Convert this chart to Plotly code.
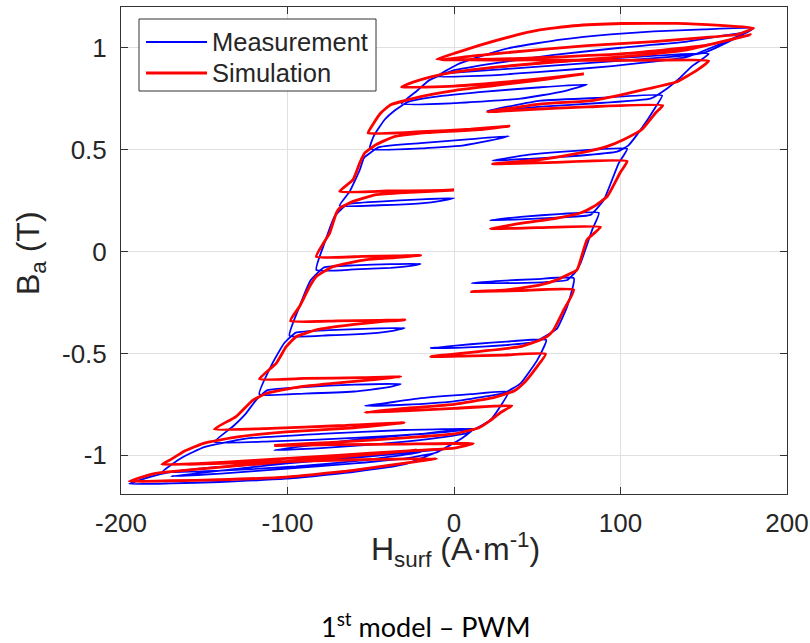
import plotly.graph_objects as go

meas_descending = [
    (180, 1.095),
    (150, 1.09), (120, 1.08), (94, 1.066), (64, 1.04), (34, 1.0), (14, 0.953), (2, 0.918),
    (-10, 0.86),
    (15, 0.862), (50, 0.88), (95, 0.91), (140, 0.955), (175, 1.075),
    (140, 1.03), (100, 1.0), (60, 0.965), (25, 0.925), (0, 0.89), (-15, 0.84),
    (-22, 0.79),
    (-31.5, 0.725),
    (0, 0.728), (40, 0.75), (65, 0.785), (80, 0.82),
    (50, 0.805), (15, 0.782), (-15, 0.755), (-28, 0.733),
    (-36, 0.69), (-41.6, 0.648), (-48, 0.57),
    (-50.6, 0.504),
    (-20, 0.506), (5, 0.52), (22, 0.545), (33, 0.566),
    (10, 0.552), (-20, 0.532), (-45, 0.512),
    (-54, 0.46), (-56.6, 0.40), (-62.6, 0.295),
    (-68.7, 0.225),
    (-45, 0.227), (-20, 0.236), (-7, 0.25), (0, 0.262),
    (-20, 0.256), (-45, 0.245), (-64, 0.232),
    (-71.7, 0.172), (-77.7, 0.043),
    (-82.7, -0.09),
    (-60, -0.088), (-38, -0.08), (-26, -0.07), (-20, -0.06),
    (-38, -0.062), (-60, -0.068), (-78, -0.078),
    (-86, -0.14), (-92.8, -0.27),
    (-98.8, -0.413),
    (-75, -0.411), (-50, -0.402), (-36, -0.388), (-29.5, -0.375),
    (-50, -0.378), (-75, -0.386), (-95, -0.398),
    (-102, -0.45), (-109, -0.548),
    (-116.9, -0.70),
    (-90, -0.697), (-60, -0.687), (-40, -0.667), (-32, -0.65),
    (-60, -0.653), (-90, -0.665), (-112, -0.68),
    (-119, -0.73), (-124.9, -0.794), (-133, -0.86),
    (-144, -0.935),
    (-110, -0.932), (-60, -0.915), (-15, -0.893), (12, -0.87),
    (-30, -0.876), (-80, -0.895), (-125, -0.918),
    (-150, -0.96), (-163, -1.01),
    (-175, -1.08),
    (-140, -1.075), (-95, -1.055), (-55, -1.025), (-20, -0.985),
    (-55, -1.0), (-100, -1.035), (-145, -1.06), (-172, -1.085),
    (-182, -1.105), (-195, -1.14),
]

meas_ascending = [
    (-195, -1.14),
    (-170, -1.138), (-141, -1.131), (-100.8, -1.115), (-60.8, -1.082), (-30, -1.045),
    (-8, -0.975),
    (-50, -1.005), (-100, -1.04), (-140, -1.075), (-170, -1.103),
    (-140, -1.09), (-100, -1.065), (-60, -1.04), (-25, -1.01), (-10, -0.985),
    (-4.4, -0.96), (5, -0.915),
    (11.6, -0.87),
    (-20, -0.895), (-60, -0.925), (-90, -0.955), (-108, -0.975),
    (-80, -0.965), (-45, -0.945), (-10, -0.915), (8, -0.89),
    (21.7, -0.828), (27, -0.77),
    (32.7, -0.689),
    (10, -0.7), (-20, -0.72), (-42, -0.745), (-53.6, -0.757),
    (-30, -0.752), (0, -0.735), (20, -0.71), (30, -0.695),
    (40, -0.647), (50, -0.533),
    (55.4, -0.434),
    (35, -0.44), (10, -0.455), (-5, -0.467), (-14, -0.474),
    (5, -0.472), (30, -0.46), (48, -0.445),
    (58, -0.40), (62, -0.377), (68, -0.27),
    (72, -0.131),
    (50, -0.135), (25, -0.145), (10.6, -0.155),
    (30, -0.155), (55, -0.15), (68, -0.14),
    (73, -0.10), (76, -0.057), (83, 0.107),
    (87, 0.19),
    (65, 0.185), (40, 0.17), (21.7, 0.153),
    (40, 0.158), (65, 0.168), (82, 0.18),
    (90, 0.254), (99, 0.435),
    (104, 0.504),
    (75, 0.495), (45, 0.475), (23, 0.446),
    (45, 0.455), (75, 0.47), (98, 0.49),
    (104.6, 0.52), (113, 0.608), (121, 0.708),
    (125, 0.766),
    (90, 0.755), (52, 0.74), (20, 0.69),
    (50, 0.71), (90, 0.73), (118, 0.75),
    (128, 0.8), (135, 0.847), (143, 0.91),
    (153, 0.97),
    (110, 0.955), (60, 0.93), (20, 0.9), (-5, 0.875),
    (30, 0.895), (80, 0.925), (130, 0.955), (150, 0.975),
    (165, 1.03), (180, 1.095),
]

# ---- Simulation (red) ----
sim_descending = [
    (180, 1.097),
    (160, 1.11), (133.5, 1.12), (101, 1.119), (72, 1.108), (50, 1.085), (34, 1.055),
    (13.7, 1.008), (1.6, 0.976),
    (-10.4, 0.943),
    (40, 0.948), (100, 0.97), (150, 1.01), (178, 1.064),
    (140, 0.99), (100, 0.955), (60, 0.93), (25, 0.905), (0, 0.88), (-15, 0.855), (-25, 0.83),
    (-31.5, 0.807),
    (0, 0.812), (40, 0.838), (65, 0.86), (78, 0.872),
    (55, 0.845), (25, 0.815), (0, 0.79), (-20, 0.76), (-38, 0.72), (-44, 0.68), (-49, 0.62),
    (-51.6, 0.582),
    (-20, 0.588), (10, 0.6), (33, 0.615),
    (15, 0.598), (-16.4, 0.583), (-36.5, 0.562), (-46.6, 0.525), (-53.6, 0.484),
    (-56.6, 0.435), (-60.6, 0.353),
    (-68.7, 0.295),
    (-40, 0.297), (-15, 0.299), (0, 0.302),
    (-26.5, 0.29), (-46.6, 0.279), (-60.6, 0.246), (-68.7, 0.213), (-70.7, 0.189), (-74.7, 0.09),
    (-82.7, -0.025),
    (-55, -0.024), (-35, -0.022), (-20, -0.018),
    (-35, -0.03), (-52.6, -0.04), (-72.7, -0.074), (-82.7, -0.123), (-86.7, -0.172), (-92.8, -0.27),
    (-98.2, -0.34),
    (-70, -0.34), (-45, -0.338), (-29.5, -0.336),
    (-45, -0.345), (-60, -0.358), (-82.7, -0.385), (-94.8, -0.418), (-100.8, -0.467), (-106.8, -0.549),
    (-116.9, -0.625),
    (-90, -0.623), (-55, -0.619), (-32, -0.615),
    (-50, -0.63), (-72.7, -0.647), (-92.8, -0.664), (-112.8, -0.697), (-120.9, -0.73), (-130.9, -0.81),
    (-144, -0.872),
    (-110, -0.868), (-70, -0.855), (-30, -0.84),
    (-60, -0.865), (-100.8, -0.885), (-130, -0.91), (-150, -0.94), (-162, -0.98), (-170, -1.02),
    (-175.5, -1.045),
    (-140, -1.035), (-90, -1.01), (-45, -0.99), (-22.5, -0.975),
    (-50, -0.995), (-100, -1.03), (-150, -1.065), (-180, -1.09),
    (-195, -1.128),
]

sim_ascending = [
    (-195, -1.128),
    (-170, -1.125), (-141, -1.12), (-100.8, -1.107), (-60.6, -1.074), (-30.5, -1.04),
    (-10.4, -1.016),
    (-60, -1.022), (-110, -1.032), (-160, -1.045),
    (-120, -1.025), (-70, -1.0), (-30, -0.98), (0, -0.965),
    (11.6, -0.943),
    (-30, -0.945), (-70, -0.948), (-108, -0.952),
    (-70, -0.935), (-30, -0.915), (0, -0.895), (15, -0.865), (21.7, -0.83), (28, -0.79),
    (34.7, -0.757),
    (0, -0.77), (-30, -0.782), (-53.6, -0.79),
    (-30, -0.77), (0, -0.75), (22, -0.72), (36, -0.685), (41.8, -0.647), (49.8, -0.566),
    (55, -0.503),
    (30, -0.508), (5, -0.513), (-14, -0.516),
    (15.7, -0.49), (39.8, -0.467), (51.8, -0.434), (55.8, -0.418), (59.8, -0.385), (65.9, -0.287),
    (71.9, -0.188),
    (40, -0.192), (10.6, -0.197),
    (31.7, -0.188), (51.8, -0.164), (61.8, -0.139), (68, -0.115), (73.9, -0.09), (79.9, 0.058),
    (88, 0.12),
    (50, 0.117), (21.7, 0.112),
    (41.8, 0.14), (61.9, 0.164), (75.9, 0.189), (83.9, 0.221), (92, 0.27), (100, 0.39),
    (104, 0.443),
    (60, 0.437), (23, 0.43),
    (51.8, 0.451), (75.9, 0.484), (92, 0.516), (102, 0.55), (113, 0.6), (121, 0.68),
    (125.4, 0.717),
    (80, 0.71), (45, 0.697), (20, 0.685),
    (52.4, 0.725), (82.8, 0.741), (103, 0.774), (117, 0.8), (133.5, 0.832), (146, 0.89),
    (153, 0.935),
    (100, 0.938), (50, 0.94), (-8, 0.942),
    (30, 0.975), (80, 1.01), (120, 1.03), (150, 1.05), (170, 1.065),
    (180, 1.097),
]

x_ticks = [-200, -100, 0, 100, 200]
x_tick_text = ["-200", "-100", "0", "100", "200"]
y_ticks = [-1, -0.5, 0, 0.5, 1]
y_tick_text = ["-1", "-0.5", "0", "0.5", "1"]
series_names = ["Measurement", "Simulation"]

meas = meas_descending + meas_ascending[1:]
sim = sim_descending + sim_ascending[1:]
meas_H = [p[0] for p in meas]
meas_B = [p[1] for p in meas]
sim_H = [p[0] for p in sim]
sim_B = [p[1] for p in sim]

BLUE = "#0000ff"
RED = "#ff0000"
AX = "#262626"
BW, RW = 1.8, 2.8

fig = go.Figure()
fig.add_trace(go.Scatter(x=meas_H, y=meas_B, mode="lines", name=series_names[0],
                         line=dict(color=BLUE, width=BW, shape="spline", smoothing=0.4),
                         showlegend=False))
fig.add_trace(go.Scatter(x=sim_H, y=sim_B, mode="lines", name=series_names[1],
                         line=dict(color=RED, width=RW, shape="spline", smoothing=0.4),
                         showlegend=False))

L, R, T, B = 121, 23, 7, 149
W, H = 810, 643
pw, ph = W - L - R, H - T - B

def px(x):
    return (x - L) / pw

def py(y):
    return (H - B - y) / ph

axis_common = dict(showline=True, linecolor="#333333", linewidth=1, mirror="ticks",
                   ticks="inside", ticklen=7, tickcolor="#333333",
                   showgrid=True, gridcolor="#e0e0e0", gridwidth=1, zeroline=False,
                   automargin=False,
                   tickfont=dict(family="Liberation Sans, Arial", size=26, color=AX))

fig.update_layout(
    width=W, height=H, margin=dict(l=L, r=R, t=T, b=B),
    paper_bgcolor="white", plot_bgcolor="white",
    xaxis=dict(range=[-200, 200], tickvals=x_ticks, ticktext=x_tick_text,
               ticklabelstandoff=6, **axis_common),
    yaxis=dict(range=[-1.19, 1.2], tickvals=y_ticks, ticktext=y_tick_text,
               ticklabelstandoff=8, **axis_common),
)

# legend box drawn inside the axes (MATLAB style)
shapes = [
    dict(type="rect", xref="paper", yref="paper", x0=px(139), x1=px(376), y0=py(91), y1=py(19),
         line=dict(color="#333333", width=1), fillcolor="white", layer="above"),
    dict(type="line", xref="paper", yref="paper", x0=px(146), x1=px(207), y0=py(42), y1=py(42),
         line=dict(color=BLUE, width=BW), layer="above"),
    dict(type="line", xref="paper", yref="paper", x0=px(146), x1=px(207), y0=py(73), y1=py(73),
         line=dict(color=RED, width=RW), layer="above"),
]
fig.update_layout(shapes=shapes)

ann_font = dict(family="Liberation Sans, Arial", color=AX)
annotations = [
    dict(text=series_names[0], x=px(210), y=py(42), xref="paper", yref="paper",
         xanchor="left", yanchor="middle", showarrow=False, font=dict(size=25.5, **ann_font)),
    dict(text=series_names[1], x=px(210), y=py(73), xref="paper", yref="paper",
         xanchor="left", yanchor="middle", showarrow=False, font=dict(size=25.5, **ann_font)),
    dict(text="H<sub>surf</sub> (A·m<sup>-1</sup>)", x=px(455), y=py(549), xref="paper", yref="paper",
         xanchor="center", yanchor="middle", showarrow=False, font=dict(size=32, **ann_font)),
    dict(text="B<sub>a</sub> (T)", x=px(30), y=py(253), xref="paper", yref="paper", textangle=-90,
         xanchor="center", yanchor="middle", showarrow=False, font=dict(size=32, **ann_font)),
    dict(text="1<sup>st</sup> model – PWM", x=px(426), y=py(625), xref="paper", yref="paper",
         xanchor="center", yanchor="middle", showarrow=False,
         font=dict(family="Lato, Open Sans, sans-serif", size=27, color="black")),
]
fig.update_layout(annotations=annotations)

fig.write_html("out.html", config={"displayModeBar": False},
               post_script="document.body.style.margin='0px';")
